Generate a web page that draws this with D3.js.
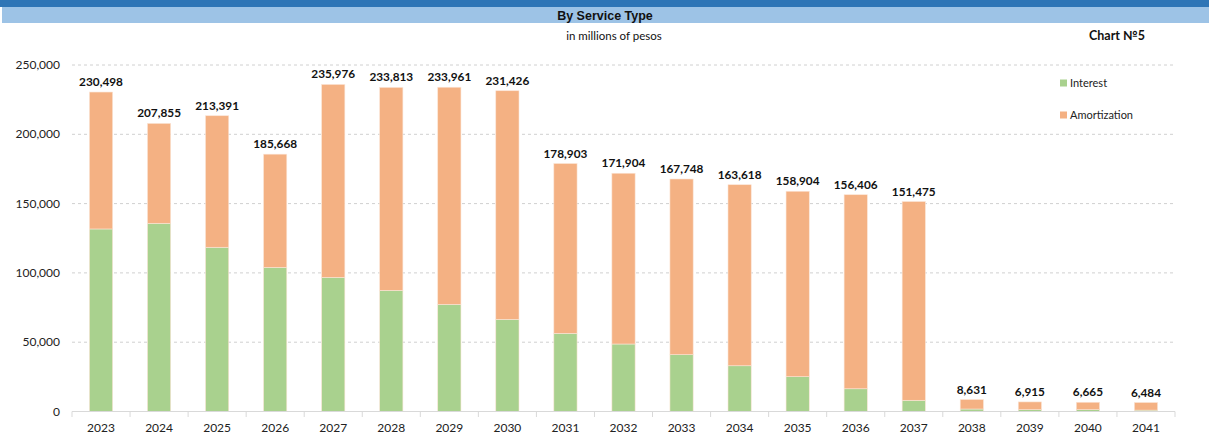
<!DOCTYPE html>
<html><head><meta charset="utf-8">
<script src="https://cdn.jsdelivr.net/npm/d3@7"></script>
<style>body{margin:0;background:#fff;} svg{display:block;}</style>
</head><body>
<script>
const years = ["2023","2024","2025","2026","2027","2028","2029","2030","2031","2032","2033","2034","2035","2036","2037","2038","2039","2040","2041"];
const totals = [230498,207855,213391,185668,235976,233813,233961,231426,178903,171904,167748,163618,158904,156406,151475,8631,6915,6665,6484];
const interest = [131700,135800,118500,104000,96800,87400,77300,66500,56400,48700,41000,33000,25100,16400,8100,1800,1300,1300,1000];
const amortization = totals.map((t,i)=>t-interest[i]);
const yTicks = [0,50000,100000,150000,200000,250000];
const seriesNames = ["Interest","Amortization"];
const colors = ["#a9d18e","#f4b183"];

const W=1209,H=440;
const svg=d3.select("body").append("svg").attr("width",W).attr("height",H);
const font="Lato, 'Open Sans', sans-serif";

// header bands
svg.append("rect").attr("x",0).attr("y",0).attr("width",W).attr("height",7).attr("fill","#2e75b6");
svg.append("rect").attr("x",2).attr("y",7).attr("width",W-2).attr("height",16).attr("fill","#9dc3e6");
svg.append("text").attr("x",605).attr("y",19.5).attr("text-anchor","middle")
  .attr("font-family","'Liberation Sans', Arial, sans-serif").attr("font-weight","bold").attr("font-size",12.5)
  .attr("fill","#111").text("By Service Type");
svg.append("text").attr("x",614).attr("y",40).attr("text-anchor","middle")
  .attr("font-family",font).attr("font-size",11.5).attr("fill","#111").text("in millions of pesos");
svg.append("text").attr("x",1117).attr("y",40).attr("text-anchor","middle")
  .attr("font-family",font).attr("font-weight","bold").attr("font-size",12.5).attr("fill","#111").text("Chart №5");

const x=d3.scaleBand().domain(years).range([72,1175]).paddingInner(0.6).paddingOuter(0.3);
const y=d3.scaleLinear().domain([0,250000]).range([411.5,65]);

// grid
svg.append("g").selectAll("line").data(yTicks.slice(1)).join("line")
  .attr("x1",72).attr("x2",1175).attr("y1",d=>y(d)).attr("y2",d=>y(d))
  .attr("stroke","#d0d0d0").attr("stroke-dasharray","3,3").attr("stroke-width",1);

// y labels
svg.append("g").selectAll("text").data(yTicks).join("text")
  .attr("x",60).attr("y",d=>y(d)+4).attr("text-anchor","end")
  .attr("font-family",font).attr("font-size",12).attr("fill","#222")
  .text(d=>d3.format(",")(d));

// stacked bars
const data=years.map((yr,i)=>({year:yr,Interest:interest[i],Amortization:amortization[i]}));
const stack=d3.stack().keys(seriesNames)(data);
svg.append("g").selectAll("g").data(stack).join("g").attr("fill",(d,i)=>colors[i])
  .selectAll("rect").data(d=>d).join("rect")
  .attr("x",d=>x(d.data.year)).attr("width",x.bandwidth())
  .attr("y",d=>y(d[1])).attr("height",d=>y(d[0])-y(d[1]))
  .attr("stroke","#fbe5d6").attr("stroke-width",0.6);

// x axis
const xAxisG=svg.append("g");
xAxisG.append("line").attr("x1",72).attr("x2",1175).attr("y1",411.5).attr("y2",411.5).attr("stroke","#d9d9d9");
const bounds=d3.range(years.length+1).map(i=>72+i*(1103/years.length));
xAxisG.selectAll(".tk").data(bounds).join("line").attr("class","tk")
  .attr("x1",d=>d).attr("x2",d=>d).attr("y1",411.5).attr("y2",417).attr("stroke","#d9d9d9");
xAxisG.selectAll("text").data(years).join("text")
  .attr("x",d=>x(d)+x.bandwidth()/2).attr("y",432).attr("text-anchor","middle")
  .attr("font-family",font).attr("font-size",12).attr("fill","#222").text(d=>d);

// totals labels
svg.append("g").selectAll("text").data(years).join("text")
  .attr("x",d=>x(d)+x.bandwidth()/2).attr("y",(d,i)=>y(totals[i])-6).attr("text-anchor","middle")
  .attr("font-family",font).attr("font-weight","bold").attr("font-size",11.8).attr("fill","#111")
  .text((d,i)=>d3.format(",")(totals[i]));

// legend
const lg=svg.append("g");
seriesNames.forEach((s,i)=>{
  const ly=83+i*32;
  lg.append("rect").attr("x",1060).attr("y",ly-3.5).attr("width",7).attr("height",7).attr("fill",colors[i]);
  lg.append("text").attr("x",1070).attr("y",ly+4).attr("font-family",font).attr("font-size",11).attr("fill","#222").text(s);
});
</script>
</body></html>
